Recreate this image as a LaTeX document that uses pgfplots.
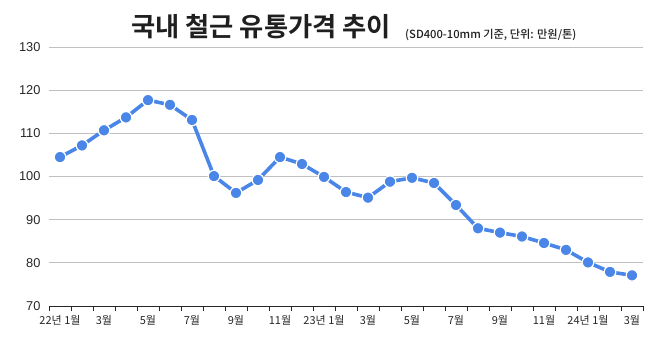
\documentclass[border=0pt]{standalone}
\usepackage{pgfplots}
\pgfplotsset{compat=1.18}
\usepackage{fontspec}
\setmainfont{Noto Sans CJK KR}
\newfontfamily\titlefont{Noto Sans CJK KR Bold}
\newfontfamily\subfont{Noto Sans CJK KR Medium}
\newfontfamily\numfont{Liberation Sans}
\definecolor{lineblue}{HTML}{4A86E8}
\definecolor{gridgray}{HTML}{C0C0C0}
\begin{document}
\begin{tikzpicture}[x=1pt,y=1pt]
\useasboundingbox (0,0) rectangle (667,351);
\begin{axis}[
  at={(49pt,45pt)}, anchor=south west,
  scale only axis, width=594pt, height=259pt,
  xmin=-0.5, xmax=26.5, ymin=70, ymax=130,
  ytick={70,80,...,130},
  ymajorgrids, grid style={gridgray, line width=0.8pt},
  axis line style={draw=none},
  tick pos=bottom,
  ytick style={draw=none},
  yticklabel style={font=\numfont\fontsize{12.8}{14}\selectfont, text=black!85, xshift=-5pt},
  /pgf/number format/assume math mode=true,
  xtick={-0.5,0.5,...,26.5},
  xticklabels={},
  xtick style={draw=black!85, line width=0.8pt},
  xtick align=outside,
  major tick length=5pt,
  extra x ticks={0,2,4,6,8,10,12,14,16,18,20,22,24,26},
  extra x tick labels={22년 1월,3월,5월,7월,9월,11월,23년 1월,3월,5월,7월,9월,11월,24년 1월,3월},
  extra x tick style={major tick length=0pt, xticklabel style={font=\fontsize{11}{12}\selectfont, text=black!85, yshift=-6pt}, grid=none},
  clip=false,
]
\addplot[lineblue, line width=3.6pt, line join=round, mark=*, mark size=5.8pt, mark options={fill=lineblue, draw=white, line width=1.2pt}]
coordinates {
(0,104.5)(1,107.2)(2,110.7)(3,113.7)(4,117.7)(5,116.6)(6,113.1)(7,100.1)(8,96.2)(9,99.2)
(10,104.5)(11,102.9)(12,99.9)(13,96.4)(14,95.1)(15,98.8)(16,99.7)(17,98.5)(18,93.4)
(19,88.0)(20,87.0)(21,86.1)(22,84.6)(23,83.0)(24,80.1)(25,77.9)(26,77.1)};
\draw[black!85, line width=0.9pt] (axis cs:-0.5,70) -- (axis cs:26.5,70);
\end{axis}
\node[anchor=base west, inner sep=0pt, text=black!88] at (131,314) {\titlefont\fontsize{26.3}{30}\selectfont 국내 철근 유통가격 추이};
\node[anchor=base west, inner sep=0pt, text=black!88] at (405,312) {\subfont\fontsize{11.2}{12}\selectfont (SD400-10mm 기준, 단위: 만원/톤)};
\end{tikzpicture}
\end{document}
